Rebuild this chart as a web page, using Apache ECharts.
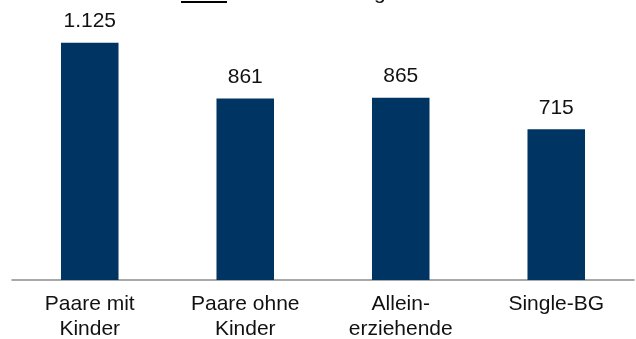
<!DOCTYPE html>
<html>
<head>
<meta charset="utf-8">
<script src="https://cdn.jsdelivr.net/npm/echarts@6/dist/echarts.min.js"></script>
<style>
  html, body { margin: 0; padding: 0; background: #fff; }
  #chart { width: 636px; height: 339px; }
</style>
</head>
<body>
<div id="chart"></div>
<script>
// Haushaltstypen und durchschnittlicher Bedarf in Euro
const categories = ['Paare mit\nKinder', 'Paare ohne\nKinder', 'Allein-\nerziehende', 'Single-BG'];
const values = [1125, 861, 865, 715];

const fmt = v => v.toLocaleString('de-DE');

const chart = echarts.init(document.getElementById('chart'));
chart.setOption({
  animation: false,
  textStyle: { fontFamily: 'Liberation Sans, Arial, sans-serif' },
  grid: { left: 12, right: 2, top: 27, bottom: 59, containLabel: false, outerBoundsMode: 'none' },
  xAxis: {
    type: 'category',
    data: categories,
    axisLine: { show: true, lineStyle: { color: '#8c8c8c', width: 1.5 } },
    axisTick: { show: false },
    axisLabel: { color: '#111', fontSize: 21, lineHeight: 25, margin: 12, interval: 0 }
  },
  yAxis: {
    type: 'value',
    min: 0, max: 1200,
    show: false,
    splitLine: { show: false }
  },
  series: [{
    type: 'bar',
    data: values,
    barCategoryGap: '63%',
    itemStyle: { color: '#003462' },
    label: {
      show: true,
      position: 'top',
      distance: 11,
      color: '#111',
      fontSize: 21,
      formatter: p => fmt(p.value)
    }
  }],
  graphic: [
    // Reste der abgeschnittenen Überschrift
    { type: 'rect', shape: { x: 181, y: 1, width: 46, height: 2 }, style: { fill: '#000' } },
    { type: 'text', x: 374, y: -17, style: { text: 'g', fontSize: 21, fill: '#111', fontFamily: 'Liberation Sans, Arial, sans-serif' } }
  ]
});
</script>
</body>
</html>
